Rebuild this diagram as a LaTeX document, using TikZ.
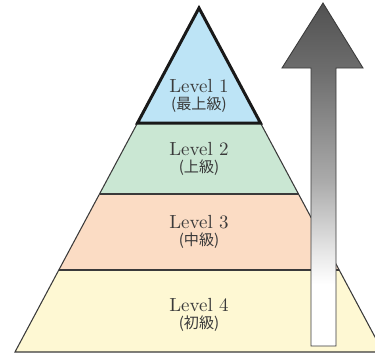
\documentclass[tikz,border=0pt]{standalone}
\usepackage{fontspec}
\newfontfamily\jpfont{Noto Sans CJK JP}
\usepackage{tikz}
\usetikzlibrary{calc}
\definecolor{ink}{HTML}{3A3A3A}
\definecolor{lvlone}{HTML}{BDE4F6}
\definecolor{lvltwo}{HTML}{CAE7D3}
\definecolor{lvlthree}{HTML}{FBDCC4}
\definecolor{lvlfour}{HTML}{FEF8D3}
\pgfdeclareverticalshading{climb}{100bp}{color(0bp)=(white); color(34bp)=(white); color(38bp)=(black!8); color(49bp)=(black!33); color(65bp)=(black!57); color(75bp)=(black!68); color(100bp)=(black!68)}

\begin{document}
\begin{tikzpicture}[x=0.02cm,y=-0.02cm,
  tier/.style={draw=ink,line width=0.6pt},
  lvltext/.style={align=center,text=ink,font=\fontsize{10.8}{12}\selectfont}]
\useasboundingbox (0,0) rectangle (375,356);
\clip (0,0) rectangle (375,356);
% pyramid tiers
\fill[lvlfour] (58.8,270) -- (339.2,270) -- (383,352) -- (15,352) -- cycle;
\fill[lvlthree] (99.5,194) -- (298.5,194) -- (339.2,270) -- (58.8,270) -- cycle;
\fill[lvltwo] (137.5,123) -- (260.5,123) -- (298.5,194) -- (99.5,194) -- cycle;
\fill[lvlone] (199,8) -- (260.5,123) -- (137.5,123) -- cycle;
\draw[tier] (137.5,123) -- (99.5,194) -- (58.8,270) -- (15,352) -- (383,352) -- (339.2,270) -- (298.5,194) -- (260.5,123);
\draw[tier] (99.5,194) -- (298.5,194);
\draw[tier] (58.8,270) -- (339.2,270);
\draw[line width=1.7pt,black!90,line join=miter] (199,8) -- (260.5,123) -- (137.5,123) -- cycle;
% labels
\node[lvltext] (l1) at (199,96) {Level 1\\[-2pt]{\jpfont\fontsize{8.6}{9}\selectfont (最上級)}};
\node[lvltext] (l2) at (199,159) {Level 2\\[-2pt]{\jpfont\fontsize{8.6}{9}\selectfont (上級)}};
\node[lvltext] (l3) at (199,232) {Level 3\\[-2pt]{\jpfont\fontsize{8.6}{9}\selectfont (中級)}};
\node[lvltext] (l4) at (199,315) {Level 4\\[-2pt]{\jpfont\fontsize{8.6}{9}\selectfont (初級)}};
% upward arrow
\shade[shading=climb,draw=ink,line width=0.5pt]
  (311,346) -- (311,68) -- (282,68) -- (323,3) -- (363,68) -- (336,68) -- (336,346) -- cycle;
\end{tikzpicture}
\end{document}
